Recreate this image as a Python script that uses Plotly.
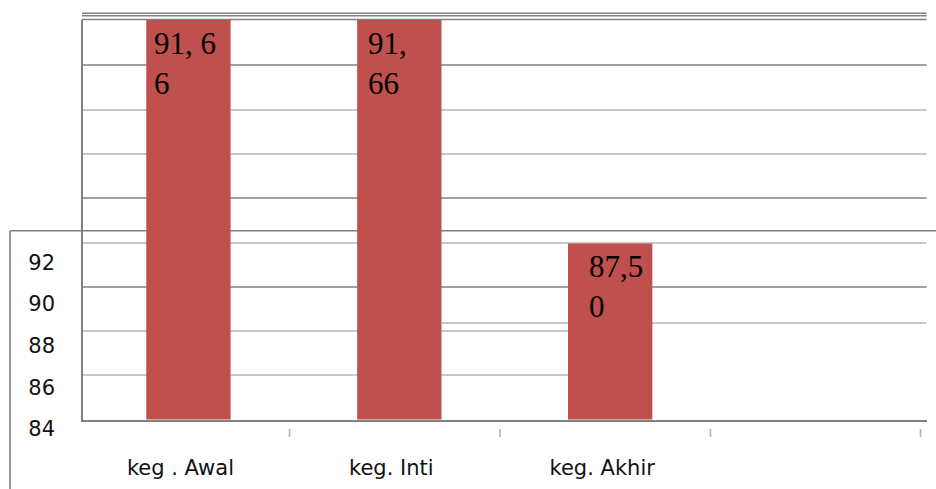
import plotly.graph_objects as go

# ---- data ----
categories = ["keg . Awal", "keg. Inti", "keg. Akhir"]
values = [91.66, 91.66, 87.50]
value_labels = ["91, 6<br>6", "91,<br>66", "87,5<br>0"]
ytick_vals = [84, 86, 88, 90, 92]

# ---- style / layout helpers ----
W, H = 936, 489
label_dx = [-36, -33, -23]
DARK = "#808080"
LIGHT = "#b4b4b4"
BAR = "#c0504d"
SANS = "DejaVu Sans"

def fx(px):
    return px / W

def fy(py):
    return 1 - py / H

plot_left, plot_right = 83, 926.5
plot_top, plot_bottom = 19.5, 419.5

fig = go.Figure()
fig.add_trace(go.Bar(
    x=categories, y=values, xaxis="x", yaxis="y2",
    marker=dict(color=BAR, line=dict(width=0)),
    width=0.4, hoverinfo="skip", showlegend=False, cliponaxis=True,
))
# invisible trace to register the visible value axis
fig.add_trace(go.Scatter(x=[categories[0]], y=[ytick_vals[0]], xaxis="x", yaxis="y",
                         mode="markers", marker=dict(opacity=0, size=1), showlegend=False,
                         hoverinfo="skip"))

# value labels inside bars
for i, (c, v, t) in enumerate(zip(categories, values, value_labels)):
    fig.add_annotation(
        x=c, y=v, xref="x", yref="y2", text=t, showarrow=False,
        xanchor="left", yanchor="top", align="left", xshift=label_dx[i], yshift=-4,
        font=dict(family="Liberation Serif", size=31, color="#000000"),
    )

shapes = []
def hline(py, x0, x1, color, w=1.6):
    shapes.append(dict(type="line", xref="paper", yref="paper",
                       x0=fx(x0), x1=fx(x1), y0=fy(py), y1=fy(py),
                       line=dict(color=color, width=w), layer="below"))

def vline(px, y0, y1, color, w=1.6):
    shapes.append(dict(type="line", xref="paper", yref="paper",
                       x0=fx(px), x1=fx(px), y0=fy(y0), y1=fy(y1),
                       line=dict(color=color, width=w), layer="below"))

# top triple line
hline(13.3, 82, 926.7, DARK, 1.5)
hline(15.8, 82, 926.7, DARK, 1.5)
hline(19.5, 82, 926.7, DARK, 1.5)
# grid-like lines
hline(65, plot_left, plot_right, DARK)
hline(110, plot_left, plot_right, LIGHT)
hline(154, plot_left, plot_right, LIGHT)
hline(198, plot_left, plot_right, DARK)
hline(243, plot_left, plot_right, LIGHT)
hline(287, plot_left, plot_right, DARK)
hline(323, 442, plot_right, LIGHT)
hline(331, plot_left, 568, LIGHT)
hline(375, plot_left, 568, LIGHT)
# outer box
hline(230.7, 10, 936, DARK)
vline(10, 230.7, 489, DARK)
# category separator ticks
for tx in [289.5, 500, 710.5, 920.5]:
    vline(tx, 429, 437, LIGHT, 1.6)

fig.update_layout(
    width=W, height=H,
    margin=dict(l=0, r=0, t=0, b=0, pad=0, autoexpand=False),
    paper_bgcolor="white", plot_bgcolor="rgba(0,0,0,0)",
    shapes=shapes,
    showlegend=False,
    xaxis=dict(
        domain=[fx(plot_left), fx(plot_right)], anchor="y2",
        range=[-0.5, 3.5], type="category", automargin=False,
        showgrid=False, zeroline=False,
        showline=True, linecolor=DARK, linewidth=1.6,
        ticks="", ticklabelstandoff=28, ticklabelshift=-8,
        tickfont=dict(family=SANS, size=21, color="#111111"),
    ),
    yaxis2=dict(
        domain=[fy(plot_bottom), fy(plot_top)], anchor="x",
        range=[84.22, 91.67], automargin=False,
        showgrid=False, zeroline=False, showticklabels=False, ticks="",
        showline=True, linecolor=DARK, linewidth=1.6,
    ),
    yaxis=dict(
        domain=[fy(429), fy(262.5)], anchor="free", position=fx(55),
        range=[84, 92], tickvals=ytick_vals, automargin=False,
        showgrid=False, zeroline=False, showline=False, ticks="",
        tickfont=dict(family=SANS, size=21, color="#111111"),
    ),
)

fig.write_html("out.html")
